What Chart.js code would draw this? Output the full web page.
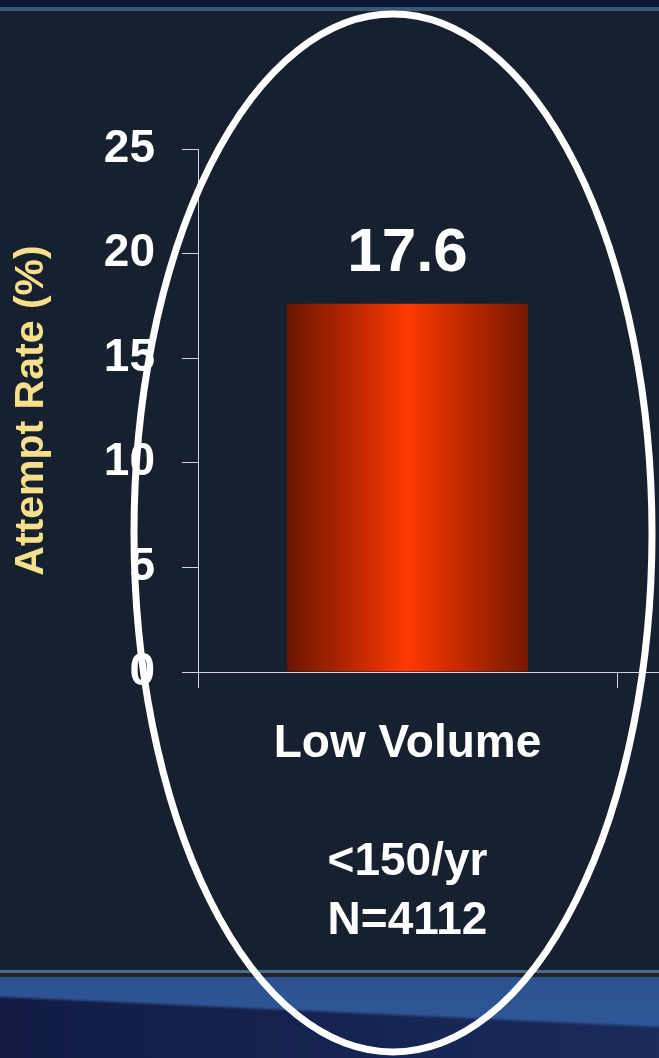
<!DOCTYPE html>
<html>
<head>
<meta charset="utf-8">
<script src="https://cdn.jsdelivr.net/npm/chart.js@4/dist/chart.umd.min.js"></script>
<style>
  html, body { margin: 0; padding: 0; background: #16202e; overflow: hidden; width: 659px; height: 1058px; }
  canvas { display: block; }
</style>
</head>
<body>
<canvas id="chart" width="1040" height="1058" style="width:1040px;height:1058px"></canvas>
<script>
// Category labels (multi-line: group name, blank spacer, volume band, sample size)
const categories = [['Low Volume', '', '<150/yr', 'N=4112'], ''];
// Attempt rate per volume group, in percent
const attemptRate = [17.6, null];
// Y axis tick values
const yTickValues = [0, 5, 10, 15, 20, 25];
const yAxisTitle = 'Attempt Rate (%)';

const FONT = '"Liberation Sans", Arial, Helvetica, sans-serif';
const AXIS_COLOR = '#cfd4da';
const BAR_FRACTION = 0.575;

// Slide backdrop: navy field with a header rule and a blue footer band
const backdrop = {
  id: 'backdrop',
  beforeDraw(chart) {
    const { ctx, width: W, height: H } = chart;
    ctx.save();
    ctx.fillStyle = '#16202e';
    ctx.fillRect(0, 0, W, H);
    // header
    ctx.fillStyle = '#0b1733';
    ctx.fillRect(0, 0, W, 7);
    ctx.fillStyle = '#3c5878';
    ctx.fillRect(0, 7, W, 4);
    // footer rules
    ctx.fillStyle = '#4a6a8c';
    ctx.fillRect(0, 970, W, 3);
    ctx.fillStyle = '#1d232b';
    ctx.fillRect(0, 973, W, 4);
    // footer band
    const band = ctx.createLinearGradient(0, 977, 0, 1030);
    band.addColorStop(0, '#2b5190');
    band.addColorStop(1, '#2f5799');
    ctx.fillStyle = band;
    ctx.fillRect(0, 977, W, H - 977);
    // darker wedge under the diagonal sweep
    const slope = 30 / 659;
    const wedge = ctx.createLinearGradient(0, 0, 659, 0);
    wedge.addColorStop(0, '#121c45');
    wedge.addColorStop(1, '#1a2b5c');
    ctx.fillStyle = wedge;
    ctx.filter = 'blur(1px)';
    ctx.beginPath();
    ctx.moveTo(-5, 997 - 5 * slope);
    ctx.lineTo(W, 997 + W * slope);
    ctx.lineTo(W, H + 5);
    ctx.lineTo(-5, H + 5);
    ctx.closePath();
    ctx.fill();
    ctx.filter = 'none';
    ctx.restore();
  }
};

// Value printed above each bar
const valueLabels = {
  id: 'valueLabels',
  afterDatasetsDraw(chart) {
    const { ctx } = chart;
    const meta = chart.getDatasetMeta(0);
    ctx.save();
    ctx.fillStyle = '#ffffff';
    ctx.font = 'bold 62px ' + FONT;
    ctx.textAlign = 'center';
    ctx.textBaseline = 'alphabetic';
    meta.data.forEach((bar, i) => {
      const v = attemptRate[i];
      if (v == null) return;
      ctx.fillText(String(v), bar.x, bar.y - 33);
    });
    ctx.restore();
  }
};

// White ring highlighting the low-volume group
const highlightRing = {
  id: 'highlightRing',
  afterDraw(chart) {
    const { ctx } = chart;
    ctx.save();
    ctx.strokeStyle = '#ffffff';
    ctx.lineWidth = 7;
    ctx.beginPath();
    ctx.ellipse(393, 533, 259, 519, 0, 0, Math.PI * 2);
    ctx.stroke();
    ctx.restore();
  }
};

function barGradient(c) {
  const chart = c.chart;
  const area = chart.chartArea;
  if (!area || !chart.scales.x) return '#c42a00';
  const xs = chart.scales.x;
  const cx = xs.getPixelForValue(c.dataIndex);
  const half = (area.right - area.left) / categories.length * BAR_FRACTION / 2;
  const g = chart.ctx.createLinearGradient(cx - half, 0, cx + half, 0);
  g.addColorStop(0, '#6a1500');
  g.addColorStop(0.5, '#ff3800');
  g.addColorStop(1, '#761800');
  return g;
}

new Chart(document.getElementById('chart'), {
  type: 'bar',
  data: {
    labels: categories,
    datasets: [{
      data: attemptRate,
      backgroundColor: barGradient,
      borderWidth: 0,
      categoryPercentage: 1,
      barPercentage: BAR_FRACTION
    }]
  },
  options: {
    responsive: false,
    devicePixelRatio: 1,
    animation: false,
    layout: { padding: { top: 149, left: 0, right: 4, bottom: 0 } },
    plugins: { legend: { display: false }, tooltip: { enabled: false } },
    scales: {
      x: {
        offset: true,
        afterFit(s) { s.height = 386; },
        grid: { offset: true, drawOnChartArea: false, drawTicks: true, tickLength: 16, color: AXIS_COLOR, lineWidth: 1 },
        border: { display: true, color: AXIS_COLOR, width: 1 },
        ticks: {
          color: '#ffffff',
          font: { family: FONT, size: 46, weight: 'bold', lineHeight: '59px' },
          padding: 27,
          maxRotation: 0,
          autoSkip: false
        }
      },
      y: {
        min: 0,
        max: 25,
        afterFit(s) { s.width = 198; },
        afterBuildTicks(s) { s.ticks = yTickValues.map(v => ({ value: v })); },
        grid: { drawOnChartArea: false, drawTicks: true, tickLength: 16, color: AXIS_COLOR, lineWidth: 1 },
        border: { display: true, color: AXIS_COLOR, width: 1 },
        ticks: {
          color: '#ffffff',
          font: { family: FONT, size: 46, weight: 'bold' },
          padding: 27
        },
        title: {
          display: true,
          text: yAxisTitle,
          color: '#f6e08c',
          font: { family: FONT, size: 41, weight: 'bold' },
          padding: { top: 7, bottom: 0 }
        }
      }
    }
  },
  plugins: [backdrop, valueLabels, highlightRing]
});
</script>
</body>
</html>
